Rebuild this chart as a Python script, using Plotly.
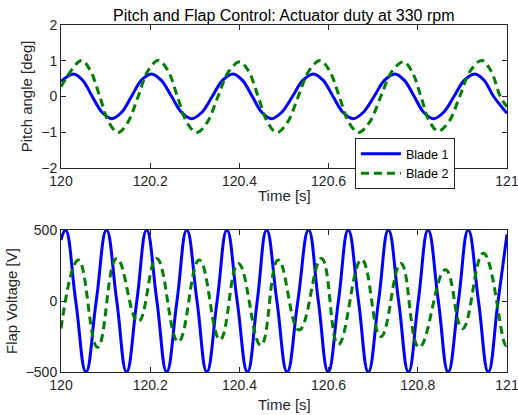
import plotly.graph_objects as go
from plotly.subplots import make_subplots

# Pitch angle, blade 1
pitch_b1_t = [120.000, 120.028, 120.049, 120.070, 120.092, 120.114, 120.136, 120.158, 120.180,
              120.203, 120.225, 120.248, 120.270, 120.293, 120.316, 120.339, 120.362,
              120.386, 120.407, 120.429, 120.450, 120.472, 120.495, 120.519, 120.542,
              120.566, 120.588, 120.610, 120.632, 120.655, 120.678, 120.702, 120.725,
              120.749, 120.770, 120.792, 120.813, 120.835, 120.858, 120.881, 120.904,
              120.928, 120.949, 120.970, 121.000]
pitch_b1_v = [0.42, 0.63, 0.45, 0.0, -0.44, -0.62, -0.44, 0.0, 0.45,
              0.63, 0.45, 0.0, -0.44, -0.62, -0.44, 0.0, 0.45,
              0.63, 0.45, 0.0, -0.44, -0.62, -0.44, 0.0, 0.45,
              0.63, 0.45, 0.0, -0.44, -0.62, -0.44, 0.0, 0.45,
              0.63, 0.45, 0.0, -0.44, -0.62, -0.44, 0.0, 0.45,
              0.63, 0.45, 0.0, -0.47]

# Pitch angle, blade 2
pitch_b2_t = [120.000, 120.046, 120.066, 120.087, 120.107, 120.128, 120.150, 120.173, 120.195,
              120.218, 120.240, 120.261, 120.282, 120.304, 120.328, 120.352, 120.376,
              120.401, 120.421, 120.442, 120.463, 120.484, 120.508, 120.532, 120.556,
              120.581, 120.602, 120.624, 120.645, 120.667, 120.692, 120.717, 120.742,
              120.768, 120.787, 120.807, 120.826, 120.846, 120.870, 120.894, 120.918,
              120.943, 120.964, 120.985, 121.000]
pitch_b2_v = [0.27, 1.01, 0.72, 0.0, -0.72, -1.01, -0.72, 0.0, 0.72,
              1.01, 0.72, 0.0, -0.72, -1.01, -0.72, 0.0, 0.70,
              0.97, 0.70, 0.0, -0.72, -1.01, -0.72, 0.0, 0.72,
              1.01, 0.72, 0.0, -0.72, -1.01, -0.72, 0.0, 0.70,
              0.97, 0.70, 0.0, -0.70, -0.97, -0.70, 0.0, 0.72,
              1.01, 0.72, 0.0, -0.29]

# Flap voltage, blade 1
flap_b1_t = [120.000, 120.010, 120.033, 120.056, 120.079, 120.102, 120.125, 120.147, 120.170,
             120.192, 120.215, 120.237, 120.260, 120.282, 120.305, 120.327, 120.350, 120.372,
             120.395, 120.418, 120.440, 120.461, 120.484, 120.507, 120.531, 120.555, 120.577,
             120.599, 120.622, 120.644, 120.667, 120.689, 120.712, 120.734, 120.757, 120.779,
             120.801, 120.823, 120.846, 120.868, 120.891, 120.913, 120.936, 120.958, 120.980,
             121.000]
flap_b1_v = [430, 500, 0, -500, 0, 500, 0, -500, 0,
             500, 0, -500, 0, 500, 0, -500, 0, 500,
             0, -500, 0, 500, 0, -500, 0, 500, 0,
             -500, 0, 500, 0, -500, 0, 500, 0, -500,
             0, 500, 0, -500, 0, 500, 0, -500, 0,
             470]

# Flap voltage, blade 2
flap_b2_t = [120.000, 120.039, 120.082, 120.125, 120.173, 120.2145, 120.263, 120.310, 120.3565,
             120.3976, 120.448, 120.487, 120.534, 120.584, 120.622, 120.674, 120.717, 120.762,
             120.803, 120.862, 120.900, 120.947, 120.997, 121.000]
flap_b2_v = [-193, 289, -326, 300, -146, 300, -287, 289, -272,
             265, -312, 289, -204, 300, -305, 292, -251, 265,
             -326, 220, -195, 336, -312, -310]

x_ticks = [120, 120.2, 120.4, 120.6, 120.8, 121]
x_ticktext = ["120", "120.2", "120.4", "120.6", "120.8", "121"]
x_ticktext_top = ["120", "120.2", "120.4", "120.6", "", "121"]  # 120.8 hidden under legend

BLUE = "rgb(0,0,255)"
GREEN = "rgb(0,128,0)"
AX = "#262626"
FONT = "Liberation Sans, Arial, sans-serif"
FS = 14      # tick labels
FS_LAB = 15  # axis labels
FS_TTL = 16  # title
FS_LEG = 12.6

fig = make_subplots(rows=2, cols=1, vertical_spacing=0.18)

fig.add_trace(go.Scatter(x=pitch_b1_t, y=pitch_b1_v, mode="lines", name="Blade 1",
                         line=dict(color=BLUE, width=3, shape="spline", smoothing=1.0)), row=1, col=1)
fig.add_trace(go.Scatter(x=pitch_b2_t, y=pitch_b2_v, mode="lines", name="Blade 2",
                         line=dict(color=GREEN, width=3, dash="8px,5px", shape="spline", smoothing=1.0)), row=1, col=1)
fig.add_trace(go.Scatter(x=flap_b1_t, y=flap_b1_v, mode="lines", showlegend=False,
                         line=dict(color=BLUE, width=3, shape="spline", smoothing=1.3)), row=2, col=1)
fig.add_trace(go.Scatter(x=flap_b2_t, y=flap_b2_v, mode="lines", showlegend=False,
                         line=dict(color=GREEN, width=3, dash="8px,5px", shape="spline", smoothing=1.3)), row=2, col=1)

axis_common = dict(showline=True, linecolor=AX, linewidth=1, mirror="ticks", ticks="inside",
                   ticklen=5, tickcolor=AX, showgrid=False, zeroline=False, automargin=False,
                   tickfont=dict(family=FONT, size=FS, color=AX))

fig.update_xaxes(range=[120, 121], tickvals=x_ticks, ticklabeloverflow="allow", **axis_common)
fig.update_xaxes(ticktext=x_ticktext_top, row=1, col=1)
fig.update_xaxes(ticktext=x_ticktext, row=2, col=1)
fig.update_yaxes(range=[-2, 2], tickvals=[-2, -1, 0, 1, 2], row=1, col=1,
                 title=dict(text="Pitch angle [deg]", font=dict(family=FONT, size=FS_LAB, color=AX), standoff=4),
                 **axis_common)
fig.update_yaxes(range=[-500, 500], tickvals=[-500, 0, 500], row=2, col=1,
                 title=dict(text="Flap Voltage [V]", font=dict(family=FONT, size=FS_LAB, color=AX), standoff=4),
                 **axis_common)

fig.update_layout(
    width=518, height=415,
    margin=dict(l=61, r=11, t=25, b=43, autoexpand=False),
    paper_bgcolor="white", plot_bgcolor="white",
    yaxis=dict(domain=[0.588, 1.0]),
    yaxis2=dict(domain=[0.0, 0.409]),
    legend=dict(x=0.659, y=0.674, xanchor="left", yanchor="top",
                bgcolor="white", bordercolor=AX, borderwidth=1,
                font=dict(family=FONT, size=FS_LEG, color="black"),
                tracegroupgap=0, itemwidth=40),
    annotations=[
        dict(text="Pitch and Flap Control: Actuator duty at 330 rpm",
             x=0.5, y=1.0, xref="paper", yref="paper", xanchor="center", yanchor="bottom",
             yshift=-1, showarrow=False, font=dict(family=FONT, size=FS_TTL, color="black")),
        dict(text="Time [s]", x=0.5, y=0.510, xref="paper", yref="paper",
             xanchor="center", yanchor="middle", showarrow=False,
             font=dict(family=FONT, size=FS_LAB, color=AX)),
        dict(text="Time [s]", x=0.5, y=-0.093, xref="paper", yref="paper",
             xanchor="center", yanchor="middle", showarrow=False,
             font=dict(family=FONT, size=FS_LAB, color=AX)),
    ],
)

# remove the page's default 8px body margin so the figure fills the window exactly
fig.write_html("out.html",
               config={"displayModeBar": False},
               post_script="document.body.style.margin='0';document.body.style.overflow='hidden';")
